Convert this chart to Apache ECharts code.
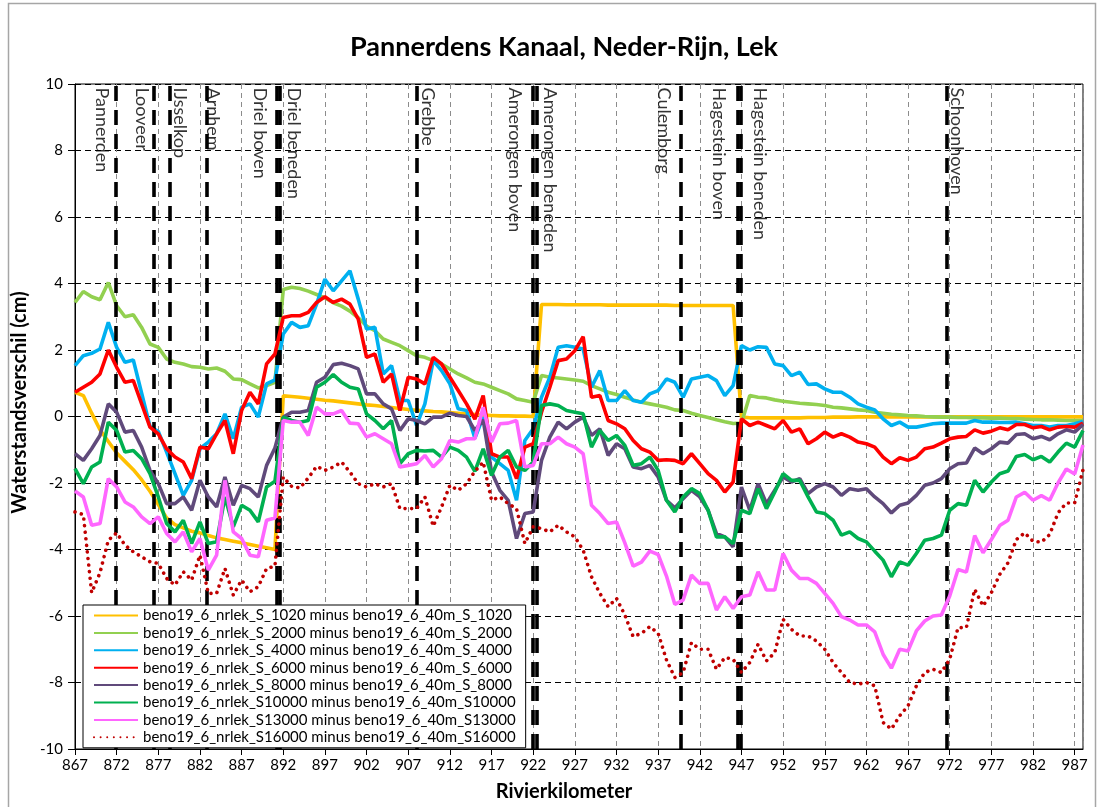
<!DOCTYPE html>
<html><head><meta charset="utf-8">
<script src="https://cdn.jsdelivr.net/npm/echarts@6/dist/echarts.min.js"></script>
<style>html,body{margin:0;padding:0;background:#fff}#c{width:1099px;height:807px}</style>
</head><body><div id="c"></div>
<script>
// ---------------- DATA ----------------
const kmStart = 867;
const km = [
 867,868,869,870,871,872,873,874,875,876,
 877,878,879,880,881,882,883,884,885,886,
 887,888,889,890,891,892,893,894,895,896,
 897,898,899,900,901,902,903,904,905,906,
 907,908,909,910,911,912,913,914,915,916,
 917,918,919,920,921,922,923,924,925,926,
 927,928,929,930,931,932,933,934,935,936,
 937,938,939,940,941,942,943,944,945,946,
 947,948,949,950,951,952,953,954,955,956,
 957,958,959,960,961,962,963,964,965,966,
 967,968,969,970,971,972,973,974,975,976,
 977,978,979,980,981,982,983,984,985,986,
 987,988];
const s1020 = [
 0.73,0.63,0.10,-0.40,-0.75,-1.10,-1.35,-1.60,-1.90,-2.25,
 -2.65,-3.05,-3.25,-3.35,-3.45,-3.50,-3.58,-3.65,-3.70,-3.75,
 -3.80,-3.85,-3.90,-3.95,-4.00,0.62,0.60,0.58,0.55,0.52,
 0.49,0.47,0.44,0.41,0.38,0.35,0.33,0.30,0.27,0.24,
 0.21,0.19,0.17,0.15,0.14,0.12,0.10,0.08,0.06,0.04,
 0.03,0.02,0.02,0.01,0.01,0.00,3.37,3.37,3.37,3.36,
 3.36,3.36,3.36,3.36,3.35,3.35,3.35,3.35,3.35,3.35,
 3.35,3.35,3.34,3.34,3.34,3.34,3.34,3.34,3.34,3.34,
 -0.02,-0.04,-0.04,-0.04,-0.04,-0.04,-0.04,-0.04,-0.03,-0.03,
 -0.03,-0.02,-0.02,-0.02,-0.01,-0.01,-0.01,-0.01,-0.01,-0.01,
 -0.01,-0.01,-0.01,-0.01,-0.01,-0.01,-0.01,-0.01,-0.01,-0.01,
 -0.01,-0.01,-0.01,-0.01,-0.01,-0.01,-0.01,-0.01,-0.01,-0.01,
 -0.01,-0.01];
const s2000 = [
 3.43,3.76,3.60,3.51,4.03,3.33,3.00,3.06,2.68,2.18,
 2.08,1.73,1.63,1.58,1.50,1.48,1.43,1.46,1.36,1.13,
 1.11,0.98,0.86,0.93,1.03,3.82,3.89,3.85,3.77,3.67,
 3.57,3.42,3.32,3.17,2.97,2.72,2.58,2.33,2.23,2.13,
 1.98,1.83,1.78,1.68,1.58,1.43,1.28,1.16,1.03,0.98,
 0.88,0.78,0.68,0.53,0.48,0.43,1.23,1.18,1.16,1.13,
 1.10,1.06,0.93,0.83,0.73,0.66,0.58,0.50,0.43,0.38,
 0.33,0.28,0.20,0.18,0.10,0.03,-0.03,-0.10,-0.16,-0.21,
 -0.20,0.63,0.58,0.56,0.50,0.46,0.43,0.40,0.38,0.36,
 0.33,0.28,0.26,0.23,0.20,0.18,0.13,0.10,0.07,0.05,
 0.03,0.02,0.00,-0.01,-0.02,-0.02,-0.03,-0.03,-0.04,-0.04,
 -0.05,-0.05,-0.06,-0.06,-0.08,-0.09,-0.10,-0.10,-0.11,-0.12,
 -0.12,-0.12];
const s4000 = [
 1.53,1.83,1.90,2.03,2.83,2.08,1.63,1.70,0.70,-0.30,
 -0.45,-1.07,-1.72,-2.37,-1.92,-0.97,-0.77,-0.52,0.08,-0.67,
 0.28,0.38,-0.02,0.98,1.10,2.48,2.83,2.68,2.73,3.38,
 4.13,3.78,4.08,4.38,3.53,2.63,2.68,1.28,1.53,0.48,
 0.48,-0.27,0.38,1.68,1.38,0.98,0.23,0.18,-0.65,-0.02,
 -1.22,-1.42,-1.62,-2.52,-0.72,-0.37,0.58,1.18,2.08,2.13,
 2.08,2.03,0.88,1.38,0.48,0.48,0.78,0.48,0.43,0.68,
 0.78,1.13,1.03,0.58,1.13,1.18,1.23,1.08,0.63,0.93,
 2.13,2.00,2.10,2.08,1.58,1.53,1.23,1.33,0.96,0.98,
 0.83,0.73,0.73,0.58,0.38,0.28,0.20,-0.07,-0.27,-0.17,
 -0.32,-0.32,-0.27,-0.22,-0.20,-0.20,-0.20,-0.20,-0.12,-0.17,
 -0.17,-0.18,-0.18,-0.17,-0.22,-0.27,-0.27,-0.32,-0.27,-0.27,
 -0.22,-0.15];
const s6000 = [
 0.73,0.88,1.03,1.28,2.00,1.48,1.03,1.08,0.38,-0.32,
 -0.52,-0.97,-1.22,-1.37,-1.87,-0.92,-0.97,-0.52,-0.12,-1.12,
 0.18,0.73,0.38,1.58,1.88,2.98,3.03,3.03,3.13,3.43,
 3.60,3.43,3.53,3.38,2.93,1.78,1.88,1.03,1.28,0.18,
 1.18,1.13,0.98,1.78,1.58,1.18,0.78,0.38,-0.08,0.63,
 -1.12,-1.22,-1.22,-1.87,-0.92,-0.82,0.13,0.88,1.68,1.73,
 1.98,2.40,0.58,0.63,-0.12,-0.22,-0.37,-0.72,-0.97,-1.07,
 -1.32,-1.30,-1.32,-1.42,-1.12,-1.42,-1.72,-1.92,-2.27,-1.97,
 -0.07,-0.27,-0.17,-0.27,-0.37,-0.12,-0.47,-0.37,-0.82,-0.67,
 -0.47,-0.62,-0.52,-0.62,-0.77,-0.82,-0.92,-1.22,-1.42,-1.24,
 -1.32,-1.22,-0.97,-0.92,-0.80,-0.67,-0.62,-0.60,-0.40,-0.50,
 -0.44,-0.34,-0.40,-0.24,-0.24,-0.34,-0.30,-0.40,-0.32,-0.30,
 -0.32,-0.20];
const s8000 = [
 -1.12,-1.32,-0.97,-0.57,0.38,0.13,-0.47,-0.42,-0.92,-1.62,
 -2.02,-2.62,-2.62,-2.42,-2.82,-1.92,-2.42,-2.72,-1.82,-2.67,
 -2.07,-2.17,-2.42,-1.47,-0.95,-0.02,0.13,0.13,0.18,1.03,
 1.18,1.56,1.60,1.53,1.43,0.68,0.68,0.38,0.23,-0.42,
 -0.07,-0.12,-0.22,-0.02,-0.02,0.10,0.03,0.00,-0.42,-0.10,
 -1.67,-2.22,-2.52,-3.67,-2.92,-2.87,-1.32,-0.62,-0.17,-0.37,
 -0.17,-0.02,-0.57,-0.37,-1.17,-0.82,-0.97,-1.52,-1.57,-1.47,
 -1.82,-2.52,-2.75,-2.47,-2.22,-2.42,-2.82,-3.52,-3.62,-3.92,
 -2.12,-2.82,-2.02,-2.62,-2.22,-1.82,-1.97,-1.87,-2.32,-2.12,
 -2.02,-2.12,-2.37,-2.17,-2.22,-2.17,-2.42,-2.62,-2.90,-2.67,
 -2.60,-2.37,-2.07,-2.00,-1.87,-1.57,-1.42,-1.40,-0.95,-1.12,
 -0.97,-0.77,-0.80,-0.54,-0.52,-0.67,-0.60,-0.70,-0.52,-0.40,
 -0.47,-0.24];
const s10000 = [
 -1.57,-2.02,-1.52,-1.37,-0.17,-0.42,-1.07,-1.02,-1.27,-1.72,
 -2.42,-3.22,-3.47,-3.12,-3.82,-3.17,-3.82,-3.77,-2.42,-3.32,
 -2.67,-2.82,-3.17,-2.12,-1.95,-0.02,-0.12,-0.17,-0.12,0.88,
 1.03,1.26,1.03,0.88,0.83,0.08,-0.12,-0.37,-0.12,-1.42,
 -1.12,-1.02,-1.04,-1.02,-1.22,-0.92,-1.02,-1.22,-1.65,-0.97,
 -1.77,-1.22,-1.02,-1.52,-1.62,-1.37,0.33,0.38,0.33,0.18,
 0.13,0.08,-0.92,-0.42,-0.72,-0.57,-0.87,-1.47,-1.42,-1.22,
 -1.62,-2.52,-2.87,-2.42,-2.17,-2.32,-2.82,-3.62,-3.62,-3.82,
 -2.82,-2.92,-2.17,-2.77,-2.27,-1.72,-1.92,-1.92,-2.42,-2.87,
 -2.92,-3.12,-3.57,-3.47,-3.67,-3.77,-4.05,-4.32,-4.82,-4.37,
 -4.47,-4.12,-3.72,-3.67,-3.57,-2.82,-2.62,-2.67,-1.92,-2.27,
 -1.97,-1.72,-1.64,-1.20,-1.14,-1.30,-1.20,-1.37,-1.07,-0.80,
 -0.92,-0.42];
const s13000 = [
 -2.24,-2.42,-3.27,-3.22,-1.87,-2.12,-2.57,-2.72,-3.02,-3.22,
 -3.02,-3.52,-3.77,-3.47,-4.07,-3.67,-4.62,-4.17,-1.92,-3.47,
 -3.67,-4.17,-4.22,-3.12,-3.05,-0.12,-0.17,-0.17,-0.57,0.28,
 0.08,0.08,0.18,-0.20,-0.22,-0.62,-0.52,-0.67,-0.82,-1.52,
 -1.47,-1.42,-1.17,-1.52,-1.27,-0.72,-0.77,-0.67,-0.67,0.28,
 -0.77,-0.22,-0.20,-0.12,-1.52,-1.47,-0.82,-0.82,-0.62,-0.82,
 -0.92,-1.12,-2.67,-2.92,-3.22,-3.17,-3.80,-4.50,-4.38,-4.05,
 -4.15,-4.80,-5.65,-5.52,-4.77,-5.02,-5.02,-5.82,-5.42,-5.77,
 -5.42,-5.37,-4.67,-5.22,-5.22,-4.12,-4.62,-4.87,-4.87,-5.02,
 -5.32,-5.62,-6.02,-6.12,-6.27,-6.27,-6.48,-7.15,-7.57,-7.00,
 -7.05,-6.45,-6.15,-6.00,-5.97,-5.40,-4.60,-4.68,-3.58,-4.10,
 -3.70,-3.28,-3.12,-2.42,-2.28,-2.52,-2.38,-2.52,-2.00,-1.58,
 -1.73,-0.86];
const s16000 = [
 -2.87,-2.95,-5.30,-4.70,-3.72,-3.50,-3.87,-4.07,-4.22,-4.37,
 -4.42,-4.87,-5.07,-4.67,-4.92,-4.17,-5.32,-5.32,-4.57,-5.37,
 -4.92,-5.27,-5.12,-4.57,-4.50,-1.82,-2.10,-2.15,-1.85,-1.50,
 -1.62,-1.52,-1.37,-1.67,-2.02,-2.12,-2.02,-2.12,-2.02,-2.77,
 -2.77,-2.77,-2.42,-3.30,-2.72,-2.07,-2.22,-2.02,-1.65,-1.37,
 -2.52,-2.42,-2.62,-2.77,-3.82,-3.32,-3.37,-3.47,-3.27,-3.47,
 -3.62,-4.02,-4.82,-5.32,-5.72,-5.47,-5.97,-6.62,-6.52,-6.32,
 -6.52,-7.32,-7.85,-7.70,-6.80,-7.00,-7.00,-7.60,-7.25,-7.30,
 -7.70,-7.40,-6.85,-7.35,-7.10,-6.10,-6.40,-6.60,-6.60,-6.75,
 -7.00,-7.40,-7.70,-8.00,-8.05,-8.00,-8.10,-9.20,-9.40,-9.00,
 -8.70,-8.10,-7.70,-7.60,-7.70,-7.30,-6.35,-6.35,-5.20,-5.70,
 -5.30,-4.75,-4.40,-3.70,-3.50,-3.75,-3.78,-3.55,-2.90,-2.60,
 -2.60,-1.60];
const seriesNames = [
 'beno19_6_nrlek_S_1020 minus beno19_6_40m_S_1020',
 'beno19_6_nrlek_S_2000 minus beno19_6_40m_S_2000',
 'beno19_6_nrlek_S_4000 minus beno19_6_40m_S_4000',
 'beno19_6_nrlek_S_6000 minus beno19_6_40m_S_6000',
 'beno19_6_nrlek_S_8000 minus beno19_6_40m_S_8000',
 'beno19_6_nrlek_S10000 minus beno19_6_40m_S10000',
 'beno19_6_nrlek_S13000 minus beno19_6_40m_S13000',
 'beno19_6_nrlek_S16000 minus beno19_6_40m_S16000'];
const markerNames = ['Pannerden','Looveer','IJsselkop','Arnhem','Driel boven','Driel beneden','Grebbe',
 'Amerongen boven','Amerongen beneden','Culemborg','Hagestein boven','Hagestein beneden','Schoonhoven'];
const markerKm = [871.9,876.5,878.4,882.8,891.2,891.6,908.0,921.95,922.45,939.75,946.5,946.95,971.6];
const titleText = 'Pannerdens Kanaal, Neder-Rijn, Lek';
const yAxisTitle = 'Waterstandsverschil (cm)';
const xAxisTitle = 'Rivierkilometer';

// ---------------- STYLE ----------------
const FONT = 'Lato, "Liberation Sans", sans-serif';
const colors = ['#FFC000','#92D050','#00B0F0','#FF0000','#604A7B','#00B050','#FF66FF','#C00000'];
const labelDx = [-14,-12,10,7,-16,14,12,-17,13,-17,-18,19,11];
const allSeries = [s1020,s2000,s4000,s6000,s8000,s10000,s13000,s16000];

const chart = echarts.init(document.getElementById('c'), null, {renderer:'canvas'});
const series = allSeries.map((vals, i) => ({
  name: seriesNames[i], type: 'line', showSymbol: false, symbol: 'none',
  data: km.map((k, j) => [k - kmStart, vals[j]]),
  lineStyle: i === 7
    ? {color: colors[i], width: 3.6, type: [0.01, 6.6], cap: 'round'}
    : {color: colors[i], width: 3.6},
  itemStyle: {color: colors[i]},
  z: 2 + i, silent: true, animation: false
}));
series.push({
  type: 'line', name: 'markers', data: [], silent: true, animation: false,
  markLine: {
    symbol: 'none', silent: true, animation: false,
    label: {show: false},
    lineStyle: {color: '#000', width: 3.6, type: [15, 9]},
    emphasis: {disabled: true},
    data: markerKm.map(k => ({xAxis: k - kmStart}))
  },
  z: 20
});
series.push({
  type: 'scatter', name: 'markerLabels', silent: true, animation: false,
  symbolSize: 1, itemStyle: {color: 'rgba(0,0,0,0)'},
  data: markerKm.map((k, i) => ({
    value: [k - kmStart, 10], name: markerNames[i],
    label: {position: [labelDx[i], 4]}
  })),
  label: {
    show: true, formatter: p => p.name, rotate: -90,
    align: 'left', verticalAlign: 'middle',
    fontFamily: FONT, fontSize: 18, color: '#000'
  },
  labelLayout: {hideOverlap: false},
  z: 30
});

chart.setOption({
  animation: false,
  backgroundColor: '#fff',
  title: {
    text: titleText, left: 559, top: 29, textAlign: 'center',
    textStyle: {fontFamily: FONT, fontSize: 27, fontWeight: 'bold', color: '#000'}
  },
  grid: {left: 75, right: 16, top: 84, bottom: 53, show: true, borderColor: '#000', borderWidth: 1, backgroundColor: 'transparent'},
  legend: {
    data: seriesNames, orient: 'vertical', left: 83, top: 605, z: 100,
    backgroundColor: '#fff', borderColor: '#000', borderWidth: 1,
    padding: [3, 10, 3, 10], itemWidth: 44, itemHeight: 14, itemGap: 2.4,
    itemStyle: {opacity: 0},
    textStyle: {fontFamily: FONT, fontSize: 15, color: '#000'},
    selectedMode: false
  },
  xAxis: {
    type: 'value', min: 0, max: 988 - kmStart, interval: 5,
    name: xAxisTitle, nameLocation: 'middle', nameGap: 33,
    nameTextStyle: {fontFamily: FONT, fontSize: 20, fontWeight: 'bold', color: '#000', padding: [0, 30, 0, 0]},
    axisLine: {show: true, onZero: false, lineStyle: {color: '#000', width: 1}},
    axisTick: {show: true, length: 6, lineStyle: {color: '#000'}},
    axisLabel: {
      fontFamily: FONT, fontSize: 15, color: '#000', margin: 9, showMaxLabel: false,
      formatter: v => (v % 5 === 0 ? String(v + kmStart) : '')
    },
    splitLine: {show: true, lineStyle: {color: '#8C8C8C', width: 1, type: [5, 4]}}
  },
  yAxis: {
    type: 'value', min: -10, max: 10, interval: 2,
    name: yAxisTitle, nameLocation: 'middle', nameGap: 39, nameRotate: 90,
    nameTextStyle: {fontFamily: FONT, fontSize: 20, fontWeight: 'bold', color: '#000', padding: [0, 0, 0, 28]},
    axisLine: {show: true, onZero: false, lineStyle: {color: '#000', width: 1}},
    axisTick: {show: true, length: 7, lineStyle: {color: '#000'}},
    axisLabel: {fontFamily: FONT, fontSize: 15, color: '#000', margin: 12},
    splitLine: {show: true, lineStyle: {color: '#000', width: 1, type: [6, 4]}}
  },
  graphic: [{
    type: 'rect', left: 6, top: 1, silent: true,
    shape: {width: 1087, height: 808},
    style: {fill: 'none', stroke: '#A6A6A6', lineWidth: 1.5}
  }],
  series: series
});
</script></body></html>
